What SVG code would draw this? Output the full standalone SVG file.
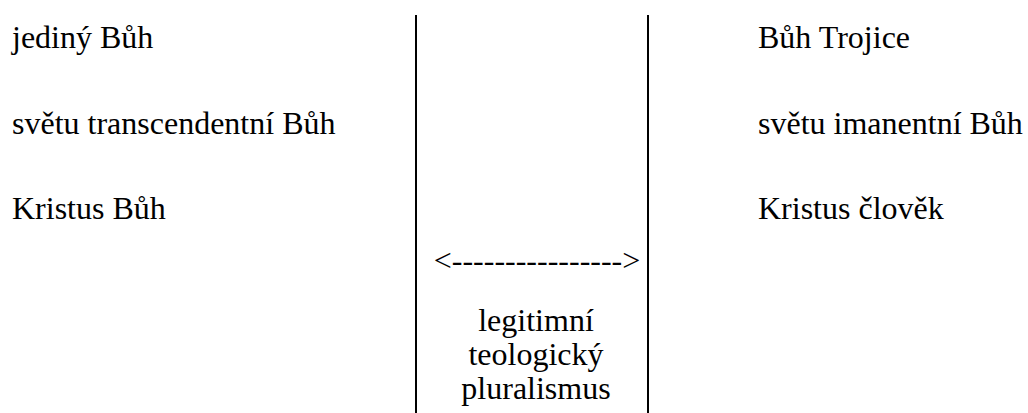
<svg xmlns="http://www.w3.org/2000/svg" width="1028" height="413" viewBox="0 0 1028 413">
<style>
.c{text-anchor:middle}
.sep{stroke:#000;stroke-width:2;fill:none}
</style>
<rect width="1028" height="413" fill="#fff"/>
<g id="connectors">
<line class="sep" x1="416" y1="15" x2="416" y2="413"/>
<line class="sep" x1="648" y1="15" x2="648" y2="413"/>
</g>
<g font-family="Liberation Serif, 'Times New Roman', serif" font-size="32" fill="#000">
<g id="left">
<text x="12" y="48">jediný Bůh</text>
<text x="12" y="134">světu transcendentní Bůh</text>
<text x="12" y="219">Kristus Bůh</text>
</g>
<g id="right">
<text x="758" y="48">Bůh Trojice</text>
<text x="758" y="134">světu imanentní Bůh</text>
<text x="758" y="219">Kristus člověk</text>
</g>
<g id="middle">
<text class="c" x="537" y="271">&lt;----------------&gt;</text>
<text class="c" x="536" y="331">legitimní</text>
<text class="c" x="536" y="365">teologický</text>
<text class="c" x="536" y="399">pluralismus</text>
</g>
</g>
</svg>
